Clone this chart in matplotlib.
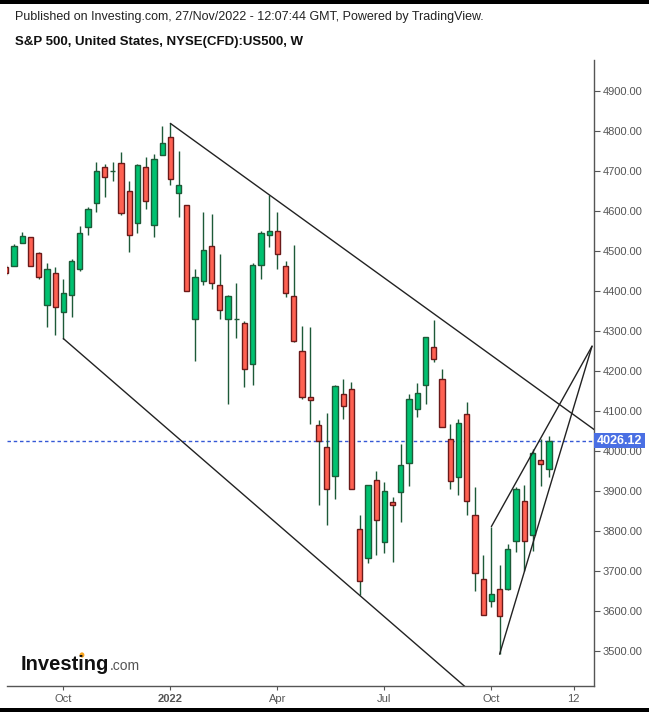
import matplotlib
matplotlib.use("Agg")
import matplotlib.pyplot as plt
import matplotlib.transforms as mtransforms
from matplotlib.patches import Rectangle, Circle

# weekly candles, week starting Mon 16 Aug 2021 (index 0) to Mon 21 Nov 2022 (index 66)
opens = [4461, 4462, 4519, 4534, 4494, 4364, 4446, 4347, 4389, 4456,
         4559, 4619, 4711, 4699, 4719, 4651, 4569, 4709, 4564, 4741,
         4784, 4644, 4614, 4331, 4426, 4512, 4414, 4331, 4330, 4319,
         4217, 4464, 4539, 4549, 4462, 4387, 4249, 4134, 4064, 4011,
         3937, 4142, 4154, 3804, 3733, 3927, 3773, 3872, 3897, 3971,
         4106, 4164, 4259, 4179, 4029, 3936, 4092, 3839, 3679, 3626,
         3654, 3654, 3774, 3876, 3789, 3977, 3956]
highs = [4466, 4517, 4547, 4535, 4497, 4469, 4459, 4431, 4480, 4562,
         4611, 4722, 4717, 4722, 4747, 4675, 4717, 4734, 4742, 4812,
         4819, 4751, 4616, 4456, 4597, 4592, 4492, 4389, 4419, 4324,
         4470, 4549, 4640, 4597, 4475, 4514, 4312, 4311, 4077, 4094,
         4164, 4179, 4172, 3839, 3914, 3949, 3922, 3884, 4017, 4142,
         4169, 4284, 4327, 4206, 4067, 4079, 4122, 3910, 3740, 3811,
         3714, 3768, 3909, 3916, 4004, 4029, 4037]
lows = [4440, 4462, 4519, 4462, 4431, 4311, 4291, 4281, 4335, 4451,
        4541, 4598, 4636, 4676, 4591, 4498, 4546, 4604, 4536, 4741,
        4666, 4586, 4399, 4226, 4415, 4406, 4331, 4118, 4283, 4160,
        4166, 4429, 4511, 4454, 4386, 4272, 4129, 4067, 3864, 3814,
        3880, 4079, 3904, 3639, 3721, 3741, 3746, 3723, 3823, 3913,
        4084, 4117, 4223, 4059, 3906, 3890, 3841, 3651, 3589, 3611,
        3492, 3652, 3747, 3699, 3749, 3912, 3936]
closes = [4444, 4512, 4537, 4462, 4434, 4456, 4359, 4394, 4474, 4546,
          4606, 4699, 4684, 4699, 4596, 4541, 4714, 4624, 4729, 4769,
          4679, 4664, 4399, 4434, 4502, 4421, 4352, 4387, 4331, 4204,
          4464, 4544, 4549, 4492, 4394, 4274, 4134, 4127, 4026, 3904,
          4162, 4112, 3904, 3676, 3914, 3827, 3901, 3866, 3964, 4131,
          4146, 4284, 4231, 4059, 3926, 4069, 3876, 3696, 3589, 3642,
          3587, 3754, 3904, 3774, 3994, 3967, 4026.12]

last_price = 4026.12

tick_pos = [7, 20, 33, 46, 59, 69]
tick_labels = ["Oct", "2022", "Apr", "Jul", "Oct", "12"]
price_ticks = [3500, 3600, 3700, 3800, 3900, 4000, 4100, 4200,
               4300, 4400, 4500, 4600, 4700, 4800, 4900]

# drawn trend lines: (week index, price) pairs
channel_top = [(20, 4819), (72, 4046)]
channel_bottom = [(7, 4281), (60, 3336)]
wedge_top = [(59, 3811), (71.23, 4262)]
wedge_bottom = [(60, 3492), (71.23, 4262)]

plt.rcParams["font.family"] = ["Liberation Sans", "DejaVu Sans"]

W, H = 649, 712
fig = plt.figure(figsize=(W / 100, H / 100), dpi=100)
fig.patch.set_facecolor("white")

ax_l, ax_r, ax_t, ax_b = 7, 594, 60, 686
ax = fig.add_axes([ax_l / W, 1 - ax_b / H, (ax_r - ax_l) / W, (ax_b - ax_t) / H])

up_body, up_edge = "#00c170", "#1d5a38"
dn_body, dn_edge = "#ff6152", "#6b1a1a"
wick = "#1d5a38"

x = list(range(len(opens)))
ax.vlines(x, lows, highs, color=wick, lw=1.0, zorder=2)
for i in x:
    o, c = opens[i], closes[i]
    up = c >= o
    ax.bar(i, abs(c - o), bottom=min(o, c), width=0.64,
           color=up_body if up else dn_body,
           edgecolor=up_edge if up else dn_edge, linewidth=1.0, zorder=3)

for seg in (channel_top, channel_bottom, wedge_top, wedge_bottom):
    xs, ys = zip(*seg)
    ax.plot(xs, ys, color="#222222", lw=1.0, zorder=4, solid_capstyle="round")

ax.axhline(last_price, color="#3558d6", lw=1.0, ls=(0, (2.5, 2)), zorder=1)

ax.set_xlim(0.15, 71.47)
ax.set_ylim(3412.5, 4977.5)

ax.yaxis.tick_right()
ax.set_yticks(price_ticks)
ax.set_yticklabels(["%.2f" % p for p in price_ticks])
ax.set_xticks(tick_pos)
ax.set_xticklabels(tick_labels)
ax.get_xticklabels()[1].set_fontweight("bold")
ax.tick_params(axis="y", length=4, width=0.8, color="#555555",
               labelcolor="#555555", labelsize=8, pad=2)
ax.tick_params(axis="x", length=3, width=0.8, color="#555555",
               labelcolor="#555555", labelsize=8, pad=3)

for s in ("top", "left"):
    ax.spines[s].set_visible(False)
for s in ("right", "bottom"):
    ax.spines[s].set_color("#555555")
    ax.spines[s].set_linewidth(1.0)

# last price tag on the axis
trans = mtransforms.blended_transform_factory(ax.transAxes, ax.transData)
box_w = 51 / (ax_r - ax_l)
box_h = 15 * (4977.5 - 3412.5) / (ax_b - ax_t)
ax.add_patch(Rectangle((1.0, last_price - box_h / 2), box_w, box_h,
                       transform=trans, clip_on=False, facecolor="#4a6fe3",
                       edgecolor="none", zorder=10))
ax.text(1.0 + box_w / 2, last_price, "%.2f" % last_price, transform=trans,
        ha="center", va="center", color="white", fontsize=9,
        fontweight="bold", clip_on=False, zorder=11)

# header
fig.text(15 / W, 1 - 17 / H,
         "Published on Investing.com, 27/Nov/2022 - 12:07:44 GMT, Powered by TradingView.",
         ha="left", va="center", fontsize=9, color="#222222")
fig.text(15 / W, 1 - 42 / H, "S&P 500, United States, NYSE(CFD):US500, W",
         ha="left", va="center", fontsize=9.5, fontweight="bold", color="#111111")

# logo
fig.text(21 / W, 1 - 670 / H, "Investing", ha="left", va="baseline",
         fontsize=14.5, fontweight="heavy", color="#111111")
fig.text(110 / W, 1 - 670 / H, ".com", ha="left", va="baseline",
         fontsize=10, color="#555555")
fig.add_artist(Circle((82.0 / W, 1 - 655 / H), 2.4 / W, transform=fig.transFigure,
                      facecolor="#f7a21b", edgecolor="none"))

# black frame bands
fig.add_artist(Rectangle((0, 1 - 4 / H), 1, 4 / H, transform=fig.transFigure,
                         facecolor="black", edgecolor="none"))
fig.add_artist(Rectangle((0, 0), 1, 4 / H, transform=fig.transFigure,
                         facecolor="black", edgecolor="none"))

fig.savefig("out.png", dpi=100)
